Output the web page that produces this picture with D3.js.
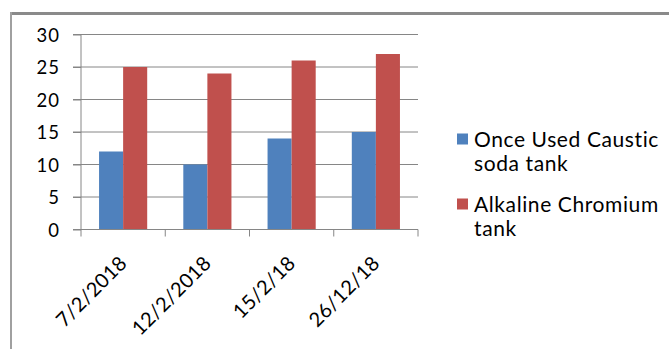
<!DOCTYPE html>
<html>
<head>
<meta charset="utf-8">
<script src="https://cdn.jsdelivr.net/npm/d3@7/dist/d3.min.js"></script>
<style>
  html, body { margin: 0; padding: 0; background: #fff; }
  svg { display: block; }
  text { font-family: Lato, "Open Sans", sans-serif; fill: #000; }
</style>
</head>
<body>
<svg id="chart" width="669" height="349"></svg>
<script>
const categories = ["7/2/2018", "12/2/2018", "15/2/18", "26/12/18"];
const seriesNames = ["Once Used Caustic soda tank", "Alkaline Chromium tank"];
const legendLines = [["Once Used Caustic", "soda tank"], ["Alkaline Chromium", "tank"]];
const causticValues = [12, 10, 14, 15];
const chromiumValues = [25, 24, 26, 27];
const yTicks = [0, 5, 10, 15, 20, 25, 30];
const colors = ["#4F81BD", "#C0504D"];

const svg = d3.select("#chart");

// outer frame
svg.append("line").attr("x1", 10).attr("x2", 669).attr("y1", 13.5).attr("y2", 13.5)
  .attr("stroke", "#8a8a8a").attr("stroke-width", 3);
svg.append("line").attr("x1", 11).attr("x2", 11).attr("y1", 12).attr("y2", 349)
  .attr("stroke", "#a0a0a0").attr("stroke-width", 2);

const plotLeft = 81, plotRight = 418, plotTop = 34.5, plotBottom = 229.5;

const x = d3.scaleBand().domain(categories).range([plotLeft, plotRight]).padding(0);
const xs = d3.scaleBand().domain(seriesNames).range([0, x.bandwidth()])
  .paddingInner(0).paddingOuter(0.75);
const y = d3.scaleLinear().domain([0, 30]).range([plotBottom, plotTop]);

const gridColor = "#868686";

// gridlines
svg.append("g").selectAll("line").data(yTicks.filter(d => d > 0)).join("line")
  .attr("x1", plotLeft - 8).attr("x2", plotRight)
  .attr("y1", d => y(d)).attr("y2", d => y(d))
  .attr("stroke", gridColor).attr("stroke-width", 1);

// bars
const data = categories.map((c, i) => ({ c, vals: [causticValues[i], chromiumValues[i]] }));
const groups = svg.append("g").selectAll("g").data(data).join("g")
  .attr("transform", d => `translate(${x(d.c)},0)`);
groups.selectAll("rect").data(d => d.vals.map((v, k) => ({ v, k }))).join("rect")
  .attr("x", d => xs(seriesNames[d.k]))
  .attr("width", xs.bandwidth())
  .attr("y", d => y(d.v))
  .attr("height", d => y(0) - y(d.v))
  .attr("fill", d => colors[d.k]);

// y axis
const yAxis = svg.append("g").attr("transform", `translate(${plotLeft},0)`)
  .call(d3.axisLeft(y).tickValues(yTicks).tickSize(8).tickPadding(13).tickFormat(d3.format("d")));
yAxis.select(".domain").attr("stroke", gridColor).attr("d", `M0,${plotTop}V${plotBottom}`);
yAxis.selectAll(".tick line").attr("stroke", gridColor);
yAxis.selectAll(".tick text").attr("font-size", 18.5).attr("font-family", "Lato")
  .attr("letter-spacing", "1px")
  .attr("dy", "0.36em").attr("fill", "#000");

// x axis
const boundaries = categories.map(c => x(c)).concat([plotRight]);
const xAxisG = svg.append("g");
xAxisG.append("line").attr("x1", plotLeft - 8).attr("x2", plotRight)
  .attr("y1", plotBottom).attr("y2", plotBottom).attr("stroke", gridColor);
xAxisG.selectAll("line.tk").data(boundaries).join("line").attr("class", "tk")
  .attr("x1", d => d).attr("x2", d => d).attr("y1", plotBottom).attr("y2", plotBottom + 7)
  .attr("stroke", gridColor);
xAxisG.selectAll("text").data(categories).join("text")
  .attr("text-anchor", "end")
  .attr("font-size", 20)
  .attr("letter-spacing", "0.3px")
  .attr("transform", d => `translate(${x(d) + x.bandwidth() / 2 + 5},${plotBottom + 35}) rotate(-45)`)
  .text(d => d);

// legend
const legend = svg.append("g");
const legendY = [139, 204];
legendLines.forEach((lines, i) => {
  legend.append("rect").attr("x", 457).attr("y", legendY[i] - 5.5)
    .attr("width", 11).attr("height", 11).attr("fill", colors[i]);
  lines.forEach((ln, j) => {
    legend.append("text").attr("x", 474).attr("y", legendY[i] + 7.5 + j * 24)
      .attr("font-size", 21).attr("letter-spacing", "0.6px").text(ln);
  });
});
</script>
</body>
</html>
